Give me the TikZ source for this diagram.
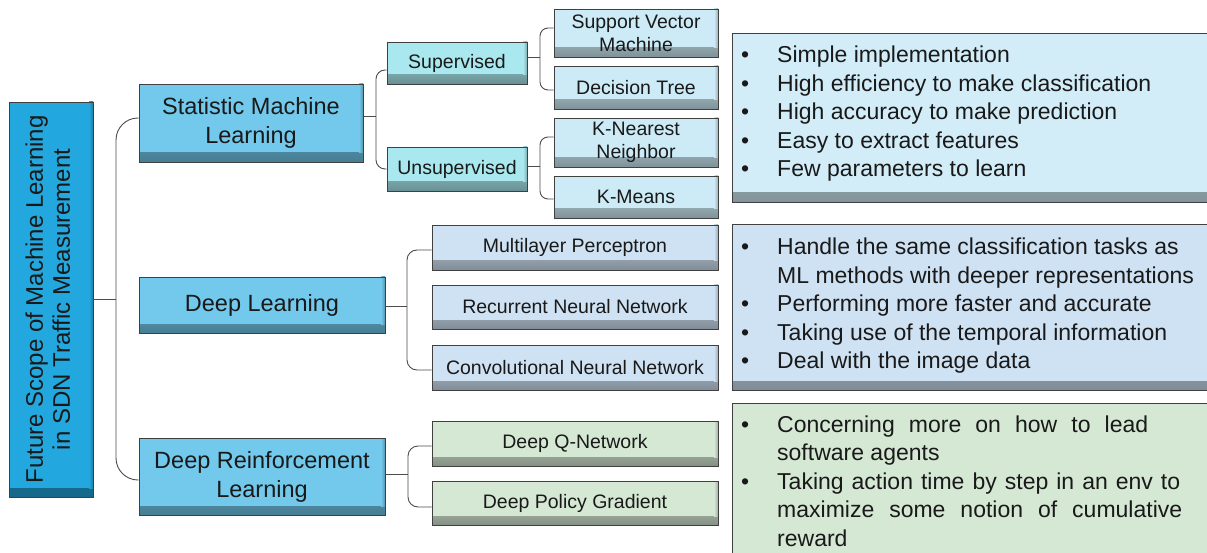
\documentclass[tikz,border=0pt]{standalone}
\usepackage{fontspec}
\setmainfont{Liberation Sans}
\definecolor{cRoot}{HTML}{22A8DE}
\definecolor{cOne}{HTML}{72C9EC}
\definecolor{cTwo}{HTML}{A9E8EE}
\definecolor{cLeafA}{HTML}{CDEBF6}
\definecolor{cLeafB}{HTML}{CFE2F3}
\definecolor{cLeafC}{HTML}{D5E8D4}
\definecolor{cPanA}{HTML}{D2EDF8}
\definecolor{cPanB}{HTML}{CFE2F3}
\definecolor{cPanC}{HTML}{D5E8D4}
\newcommand{\bul}{\makebox[36pt][l]{\textbullet}}
\newcommand{\cont}{\hspace*{36pt}}
\tikzset{
  box/.style={draw=black!75, line width=0.9pt, fill=#1, inner sep=0pt, align=center, text=black!90,
    path picture={
      \shade[top color=#1, bottom color=#1!62!black] ([yshift=9pt]path picture bounding box.south west) rectangle (path picture bounding box.south east);
      \shade[left color=#1, right color=#1!75!black] ([xshift=-4pt]path picture bounding box.north east) rectangle ([yshift=9pt]path picture bounding box.south east);
    }},
  conn/.style={draw=black!70, line width=0.9pt},
  lvone/.style={font=\fontsize{23.5}{29}\selectfont},
  leaf/.style={font=\fontsize{19.5}{23}\selectfont},
  ptxt/.style={font=\fontsize{23}{28.5}\selectfont, inner sep=0pt, anchor=base west, align=left, text=black!90},
}
\begin{document}
\begin{tikzpicture}[x=1pt,y=-1pt]
\clip (0,0) rectangle (1207,553);
\fill[white] (0,0) rectangle (1207,553);

% root
\node[box=cRoot, minimum width=84pt, minimum height=395pt, font=\fontsize{24}{27}\selectfont] (root) at (51,299.5)
  {\rotatebox{90}{\begin{tabular}{@{}c@{}}Future Scope of Machine Learning\\in SDN Traffic Measurement\end{tabular}}};

% level one
\node[box=cOne, lvone, minimum width=224pt, minimum height=78pt] (sml) at (251,123) {Statistic Machine\\Learning};
\node[box=cOne, lvone, minimum width=246pt, minimum height=56pt] (dl) at (262,305) {Deep Learning};
\node[box=cOne, lvone, minimum width=246pt, minimum height=77pt] (drl) at (262,476.5) {Deep Reinforcement\\Learning};

% level two
\node[box=cTwo, leaf, minimum width=140pt, minimum height=42pt] (sup) at (457,63) {Supervised};
\node[box=cTwo, leaf, minimum width=140pt, minimum height=44pt] (unsup) at (457,169) {Unsupervised};

% leaves
\node[box=cLeafA, leaf, minimum width=164pt, minimum height=48pt] (svm) at (636,33) {Support Vector\\Machine};
\node[box=cLeafA, leaf, minimum width=164pt, minimum height=43pt] (dt) at (636,87.5) {Decision Tree};
\node[box=cLeafA, leaf, minimum width=164pt, minimum height=49pt] (knn) at (636,142.5) {K-Nearest\\Neighbor};
\node[box=cLeafA, leaf, minimum width=164pt, minimum height=42pt] (km) at (636,197) {K-Means};

\node[box=cLeafB, leaf, minimum width=286pt, minimum height=45pt] (mlp) at (575,247.5) {Multilayer Perceptron};
\node[box=cLeafB, leaf, minimum width=286pt, minimum height=44pt] (rnn) at (575,307) {Recurrent Neural Network};
\node[box=cLeafB, leaf, minimum width=286pt, minimum height=45pt] (cnn) at (575,367.5) {Convolutional Neural Network};

\node[box=cLeafC, leaf, minimum width=286pt, minimum height=45pt] (dqn) at (575,443.5) {Deep Q-Network};
\node[box=cLeafC, leaf, minimum width=286pt, minimum height=44pt] (dpg) at (575,503) {Deep Policy Gradient};

% panels
\node[box=cPanA, minimum width=500pt, minimum height=169pt] (p1) at (982,117.5) {};
\node[box=cPanB, minimum width=500pt, minimum height=166pt] (p2) at (982,307) {};
\node[box=cPanC, minimum width=500pt, minimum height=217pt] (p3) at (982,511.5) {};

\node[ptxt] (t1) at (741,63) {\parbox[t]{470pt}{%
\bul Simple implementation\\
\bul High efficiency to make classification\\
\bul High accuracy to make prediction\\
\bul Easy to extract features\\
\bul Few parameters to learn}};

\node[ptxt] (t2) at (741,255) {\parbox[t]{470pt}{%
\bul Handle the same classification tasks as\\
\cont ML methods with deeper representations\\
\bul Performing more faster and accurate\\
\bul Taking use of the temporal information\\
\bul Deal with the image data}};

\node[ptxt] (t3) at (741,432) {\parbox[t]{470pt}{%
\bul\makebox[371pt][s]{Concerning more on how to lead}\\
\cont software agents\\
\bul\makebox[403pt][s]{Taking action time by step in an env to}\\
\cont\makebox[405pt][s]{maximize some notion of cumulative}\\
\cont reward}};

% connectors
\coordinate (tk) at (116,299);
\draw[conn] (root.east) -- (root.east -| tk);
\draw[conn, rounded corners=22pt] ([yshift=5pt]sml.west) -| (tk) |- ([yshift=-3.5pt]drl.west);

\coordinate (b1) at (376,116);
\draw[conn] ([yshift=7pt]sml.east) -- (b1);
\draw[conn, rounded corners=9pt] ([yshift=-7pt]sup.west) -| (b1) |- (unsup.west);

\coordinate (b2) at (540,57);
\draw[conn] ([yshift=6pt]sup.east) -- (b2);
\draw[conn, rounded corners=8pt] ([yshift=5pt]svm.west) -| (b2) |- ([yshift=-2.5pt]dt.west);

\coordinate (b3) at (540,166);
\draw[conn] ([yshift=3pt]unsup.east) -- (b3);
\draw[conn, rounded corners=8pt] ([yshift=5.5pt]knn.west) -| (b3) |- ([yshift=-2pt]km.west);

\coordinate (b4) at (407,306);
\draw[conn] ([yshift=-1pt]dl.east) -- (b4);
\draw[conn, rounded corners=10pt] ([yshift=-2.5pt]mlp.west) -| (b4) |- ([yshift=-2.5pt]cnn.west);

\coordinate (b5) at (408,474);
\draw[conn] ([yshift=2.5pt]drl.east) -- (b5);
\draw[conn, rounded corners=10pt] ([yshift=-2.5pt]dqn.west) -| (b5) |- ([yshift=-4pt]dpg.west);
\end{tikzpicture}
\end{document}
